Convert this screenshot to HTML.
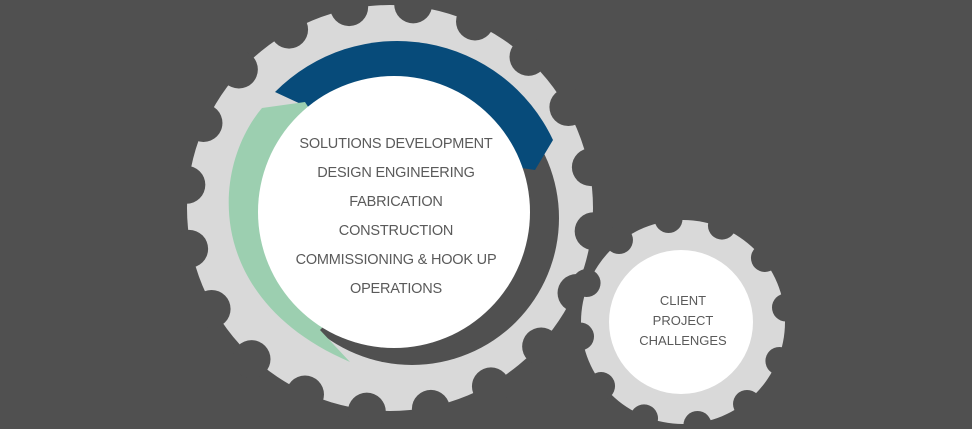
<!DOCTYPE html>
<html><head><meta charset="utf-8"><style>
html,body{margin:0;padding:0;background:#505050;}
svg{display:block}
text{font-family:"Liberation Sans",sans-serif;fill:#5a5a5a;text-anchor:middle;}
</style></head><body>
<svg width="972" height="429" viewBox="0 0 972 429" xmlns="http://www.w3.org/2000/svg">
<rect width="972" height="429" fill="#505050"/>
<circle cx="390" cy="208" r="203" fill="#d9d9d9"/>
<g fill="#505050" id="n1"></g>
<circle cx="412" cy="218" r="147" fill="#505050"/>
<path d="M275,92 A172,172 0 0,1 553,140 L535,170 L400,150 Z" fill="#074b7a"/>
<path d="M305,102 L262,108 C210,170 205,300 350,362 L320,330 L400,250 Z" fill="#9ccfb0"/>
<circle cx="394" cy="212" r="136" fill="#ffffff"/>
<g font-size="14.5" letter-spacing="-0.2">
<text x="396" y="148">SOLUTIONS DEVELOPMENT</text>
<text x="396" y="177">DESIGN ENGINEERING</text>
<text x="396" y="206">FABRICATION</text>
<text x="396" y="235">CONSTRUCTION</text>
<text x="396" y="264">COMMISSIONING &amp; HOOK UP</text>
<text x="396" y="293">OPERATIONS</text>
</g>
<circle cx="683" cy="322" r="102" fill="#d9d9d9"/>
<g fill="#505050" id="n2"></g>
<circle cx="681" cy="322" r="72" fill="#ffffff"/>
<g font-size="13">
<text x="683" y="305">CLIENT</text>
<text x="683" y="325">PROJECT</text>
<text x="683" y="345">CHALLENGES</text>
</g>
</svg>
<script>
function notches(id,cx,cy,R,r,n,off){var g=document.getElementById(id),s='';for(var k=0;k<n;k++){var a=(off+k*360/n)*Math.PI/180;s+='<circle cx="'+(cx+R*Math.cos(a))+'" cy="'+(cy+R*Math.sin(a))+'" r="'+r+'"/>';}g.innerHTML=s;}
notches('n1',390,208,205,19,20,6.5);
notches('n2',683,322,104,14,12,22);
</script>
</body></html>
